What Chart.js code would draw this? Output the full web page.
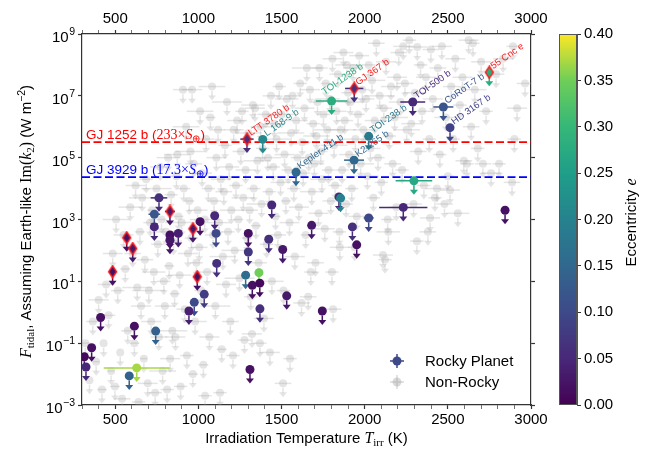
<!DOCTYPE html>
<html>
<head>
<meta charset="utf-8">
<script src="https://cdn.jsdelivr.net/npm/chart.js@4.4.1/dist/chart.umd.min.js"></script>
<style>
  html, body { margin: 0; padding: 0; background: #fff; }
  #wrap { width: 650px; height: 452px; }
</style>
</head>
<body>
<div id="wrap"><canvas id="tidalChart" width="650" height="452"></canvas></div>
<script>
// ---- data -------------------------------------------------------------
const solarConstant = 1361; // W m^-2, one Earth instellation
const refNames = ['GJ 1252 b', 'GJ 3929 b'];
const refInstellation = [233, 17.3]; // in units of S_earth
const refColors = ['#ff0000', '#0000ff'];

const tempMin = 300, tempMax = 3000;
const xTickValues = [500, 1000, 1500, 2000, 2500, 3000];
const yTickExponents = [-3, -1, 1, 3, 5, 7, 9];
const eccMax = 0.4;
const eccTicks = [0, 0.05, 0.10, 0.15, 0.20, 0.25, 0.30, 0.35, 0.40];

// rocky planets: upper limits on tidal flux (log10 W m^-2)
const rockyNames = ['LTT 3780 b', 'L 168-9 b', 'Kepler-411 b', 'TOI-1238 b', 'GJ 367 b', 'TOI-500 b',
  'CoRoT-7 b', 'HD 3167 b', 'TOI-238 b', 'K2-265 b', '55 Cnc e',
  '', '', '', '', '', '', '', '', '', '', '', '', '', '', '', '', '', '', '', '', '', '', '', '', '',
  '', '', '', '', '', '', '', '', '', '', '', '', '', '', '', '', '', '', '', '', '', '', '', ''];
const rockyT = [1292, 1387, 1587, 1801, 1937, 2289, 2473, 2513, 2024, 1936, 2749,
  2296, 2232, 2844, 2024, 1845, 1855, 1441, 1926, 1952, 1681, 1423, 1507,
  763, 735, 735, 829, 829, 829, 879, 967, 1010, 1098, 1106, 1110, 1300, 1300,
  569, 605, 484, 993, 412, 615, 743, 943, 975, 1035, 1284, 1364, 1324, 1369, 1370, 1531,
  1310, 358, 314, 324, 584, 629, 1745];
const rockyLogF = [5.60, 5.59, 4.53, 6.83, 7.24, 6.80, 6.64, 5.97, 5.69, 4.92, 7.76,
  4.25, 3.39, 3.30, 3.05, 3.73, 3.69, 3.47, 2.76, 2.18, 2.81, 2.36, 2.03,
  3.70, 3.17, 2.76, 3.26, 2.50, 2.33, 2.55, 2.70, 2.93, 3.12, 2.55, 1.58, 2.55, 1.95,
  2.41, 2.06, 1.31, 1.15, -0.17, -0.45, -0.61, 0.04, 0.32, 0.58, 1.20, 1.28, 0.87, 0.94, 0.11, 0.53,
  -1.85, -1.15, -1.44, -1.77, -2.06, -1.80, 0.04];
const rockyErrT = [40, 20, 15, 95, 55, 75, 60, 10, 25, 60, 10,
  110, 145, 0, 30, 10, 0, 0, 15, 0, 0, 0, 0,
  50, 35, 0, 30, 0, 0, 0, 0, 0, 0, 20, 0, 20, 20,
  0, 0, 0, 0, 0, 0, 0, 0, 0, 0, 0, 0, 0, 0, 0, 0,
  0, 0, 0, 0, 0, 198, 0];
const rockyEcc = [0.06, 0.21, 0.15, 0.28, 0.06, 0.05, 0.12, 0.09, 0.18, 0.15, 0.28,
  0.27, 0.05, 0.02, 0.10, 0.05, 0.20, 0.05, 0.06, 0.02, 0.03, 0.06, 0.03,
  0.06, 0.12, 0.05, 0.03, 0.02, 0.03, 0.04, 0.03, 0.02, 0.05, 0.10, 0.06, 0.02, 0.07,
  0.02, 0.03, 0.02, 0.02, 0.02, 0.02, 0.14, 0.04, 0.10, 0.08, 0.16, 0.35, 0.02, 0.01, 0.06, 0.03,
  0.02, 0.02, 0.01, 0.05, 0.14, 0.37, 0.02];
// drawn as red-rimmed diamonds
const rockyFlagged = [true, false, false, false, true, false, false, false, false, false, true,
  false, false, false, false, false, false, false, false, false, false, false, false,
  false, false, false, true, false, false, false, true, false, false, false, false, false, false,
  true, true, true, true, false, false, false, false, false, false, false, false, false, false, false, false,
  false, false, false, false, false, false, false];

// non-rocky planets: [T_irr (K), log10 F_tidal, sigma T_irr (K)]
const nonRocky = [
  [320,-1.0,30],[345,-2.2,0],[365,-0.3,40],[385,-1.6,20],[400,0.4,60],[420,-2.5,30],[430,-1.0,0],[445,0.9,50],
  [460,-0.1,40],[475,-1.9,20],[485,1.9,60],[498,-2.4,30],[505,3.0,80],[515,0.7,40],[530,-1.3,0],[541,-2.8,50],
  [550,2.5,60],[560,1.4,30],[575,-0.6,40],[590,3.4,70],
  [605,1.9,50],[615,-1.0,30],[622,4.1,60],[632,0.8,90],[640,-2.9,40],[648,2.6,30],[655,0.2,60],[662,3.7,80],
  [672,-1.5,20],[678,1.7,50],[686,4.3,40],[695,-2.3,60],[702,0.7,100],[709,2.9,40],[716,-0.3,60],[722,3.3,30],
  [732,1.3,70],[740,-2.6,40],[748,4.0,90],[756,2.2,40],[762,-0.8,50],[770,4.7,60],[778,3.0,30],[785,-1.9,80],
  [792,1.0,40],[798,0.2,60],
  [805,2.6,60],[812,-2.5,40],[818,5.0,70],[824,1.5,30],[830,-1.5,60],[836,3.8,40],[843,-0.6,90],[850,2.3,50],
  [857,0.6,30],[862,-0.8,60],[868,4.4,40],[873,5.1,80],[880,3.1,30],[887,1.2,70],[893,-2.4,40],[900,2.9,100],
  [907,7.2,60],[912,4.0,40],[918,0.1,50],[926,6.0,80],[931,-1.4,40],[937,1.9,60],[945,3.6,30],[952,5.2,90],
  [958,2.4,40],[962,7.2,60],[967,-2.0,30],[972,4.8,50],[980,-0.3,70],[988,1.6,40],[995,3.3,60],
  [1005,2.1,50],[1010,6.5,80],[1016,0.7,40],[1022,4.5,60],[1030,-1.7,30],[1038,3.0,90],[1040,-2.7,40],[1046,5.6,50],
  [1052,1.3,70],[1060,4.0,40],[1066,-0.8,60],[1072,6.3,30],[1082,7.3,80],[1088,2.5,50],[1094,3.6,40],[1102,0.2,90],
  [1108,5.0,60],[1118,5.9,40],[1124,2.9,70],[1130,-2.6,40],[1135,4.3,60],[1140,-1.2,30],[1147,1.8,80],[1153,3.9,50],
  [1160,5.4,40],[1166,0.9,60],[1172,6.8,90],[1178,2.6,40],[1185,4.7,60],[1192,-0.3,50],[1198,3.3,70],
  [1208,-1.4,40],[1212,5.9,60],[1218,2.0,80],[1226,4.1,40],[1233,6.2,60],[1240,3.0,30],[1247,1.1,90],[1255,5.2,50],
  [1262,6.5,40],[1270,3.7,70],[1277,-0.9,40],[1284,4.6,60],[1292,2.4,30],[1300,5.8,80],[1308,3.3,50],[1315,0.5,40],
  [1322,-0.7,60],[1328,6.7,70],[1333,4.0,40],[1340,6.6,60],[1346,2.8,30],[1355,4.9,80],[1362,1.6,50],[1370,-1.0,40],
  [1374,6.0,60],[1380,3.5,90],[1386,5.3,40],[1394,-0.2,60],
  [1405,6.4,50],[1410,2.2,40],[1418,5.0,80],[1426,3.9,40],[1430,-1.3,60],[1436,7.0,50],[1442,1.0,70],[1450,4.7,40],
  [1456,6.1,60],[1464,3.1,30],[1470,5.6,80],[1478,2.5,50],[1486,7.3,40],[1494,4.2,60],[1500,6.4,90],[1509,-2.3,50],
  [1512,0.7,40],[1518,5.1,60],[1526,3.6,30],[1532,6.9,70],[1540,4.6,40],[1548,2.9,60],[1551,-1.5,40],[1557,5.8,80],
  [1566,7.0,50],[1574,4.0,40],[1580,1.8,60],[1588,6.2,70],[1596,5.0,40],
  [1604,3.4,60],[1612,7.4,40],[1620,0.3,50],[1624,5.5,80],[1630,4.5,40],[1638,6.6,60],[1645,2.5,30],[1652,7.9,90],
  [1660,0.5,50],[1664,5.0,40],[1671,7.2,60],[1676,1.3,40],[1682,3.9,70],[1690,6.1,40],[1697,4.8,60],[1704,1.6,50],
  [1710,5.7,80],[1716,6.8,40],[1722,3.2,60],[1728,7.9,50],[1736,5.2,40],[1743,4.3,70],[1752,6.4,40],[1760,2.7,60],
  [1766,7.4,30],[1775,5.9,80],[1782,4.6,40],[1790,6.9,60],[1796,3.6,50],
  [1803,1.3,40],[1806,8.2,60],[1810,0.1,50],[1815,5.4,80],[1822,4.1,40],[1830,6.5,60],[1838,7.7,50],[1848,2.6,40],
  [1850,2.1,60],[1856,5.9,90],[1864,4.6,40],[1872,8.4,60],[1880,6.2,50],[1888,3.5,40],[1893,8.0,70],[1900,7.1,40],
  [1906,5.1,60],[1914,6.8,80],[1922,4.0,40],[1930,7.9,60],[1940,2.1,40],[1944,5.6,70],[1952,3.1,50],[1960,6.4,40],
  [1967,8.3,60],[1976,4.8,80],[1985,7.2,40],[1992,5.9,60],
  [2008,6.9,50],[2016,4.4,70],[2024,8.0,40],[2034,5.3,60],[2044,7.5,80],[2052,3.7,40],[2060,6.2,60],[2070,8.7,50],
  [2080,5.0,40],[2090,7.0,90],[2100,4.2,40],[2110,1.85,60],[2115,6.6,50],[2122,1.7,40],[2128,8.1,60],[2138,3.0,40],
  [2142,2.6,70],[2148,5.7,40],[2158,7.3,60],[2168,4.8,50],[2180,6.3,80],[2190,3.4,40],[2194,7.6,60],
  [2205,8.4,50],[2215,6.8,70],[2225,4.6,40],[2232,8.6,60],[2242,7.4,50],[2252,5.9,80],[2268,8.8,40],[2280,6.1,60],
  [2294,3.5,50],[2302,7.1,70],[2314,2.3,40],[2316,8.58,60],[2322,5.2,50],[2336,8.0,40],[2345,6.5,70],[2356,4.1,40],
  [2368,7.6,60],[2380,2.6,50],[2388,5.6,40],[2393,3.05,60],[2398,8.5,50],
  [2410,6.9,60],[2422,3.7,40],[2434,4.0,70],[2440,7.9,50],[2452,5.1,40],[2464,8.6,60],[2480,3.5,50],[2488,6.3,70],
  [2500,4.4,40],[2513,3.95,60],[2520,7.3,50],[2532,5.6,40],[2545,8.2,60],[2560,3.2,70],[2572,6.7,40],[2588,7.6,60],
  [2596,4.9,50],
  [2615,4.8,40],[2625,8.8,60],[2640,6.0,50],[2651,8.7,40],[2662,7.2,70],[2680,5.3,40],[2700,8.1,60],[2711,4.8,50],
  [2730,6.5,40],[2760,4.5,60],[2790,7.7,50],[2808,4.8,40],[2832,8.2,60],[2886,4.2,50],[2892,8.6,40],[2900,5.6,40],
  [2916,6.6,60],[2964,7.4,50]
];

// ---- styling helpers ---------------------------------------------------
const SANS = '"Liberation Sans", Arial, Helvetica, sans-serif';
const SERIF = '"Liberation Serif", "Times New Roman", serif';
const GRAY = 'rgba(160,160,160,0.28)';
const ARROW_LEN = 14;

const viridisStops = ['#440154', '#482878', '#3e4989', '#31688e', '#26828e', '#1f9e89', '#35b779', '#6ece58', '#fde725'];

function hexRgb(h) {
  return [1, 3, 5].map(k => parseInt(h.slice(k, k + 2), 16));
}

function viridis(t) {
  t = Math.min(1, Math.max(0, t));
  const n = viridisStops.length - 1;
  const i = Math.min(n - 1, Math.floor(t * n));
  const f = t * n - i;
  const a = hexRgb(viridisStops[i]), b = hexRgb(viridisStops[i + 1]);
  const c = a.map((v, k) => Math.round(v + (b[k] - v) * f));
  return `rgb(${c[0]},${c[1]},${c[2]})`;
}

const eccColor = e => viridis(e / eccMax);

// thin diamond marker with a red rim, filled with the eccentricity colour
function diamondMarker(fill) {
  const c = document.createElement('canvas');
  c.width = 11; c.height = 14;
  const g = c.getContext('2d');
  g.beginPath();
  g.moveTo(5.5, 1); g.lineTo(9.5, 7); g.lineTo(5.5, 13); g.lineTo(1.5, 7);
  g.closePath();
  g.fillStyle = fill;
  g.fill();
  g.strokeStyle = '#ff1a1a';
  g.lineWidth = 1.4;
  g.stroke();
  return c;
}

// draw a run of differently-styled text pieces on one baseline
function drawRuns(ctx, runs, x, y, align) {
  let total = 0;
  runs.forEach(r => { ctx.font = r.font; r.w = ctx.measureText(r.text).width; total += r.w; });
  let cx = align === 'center' ? x - total / 2 : x;
  ctx.textAlign = 'left';
  runs.forEach(r => {
    ctx.font = r.font;
    ctx.fillText(r.text, cx, y + (r.dy || 0));
    cx += r.w;
  });
}

// ---- datasets ------------------------------------------------------------
const rockyPoints = rockyT.map((t, i) => ({
  x: t, y: Math.pow(10, rockyLogF[i]), dT: rockyErrT[i], ecc: rockyEcc[i], name: rockyNames[i]
}));
const plainRocky = rockyPoints.filter((p, i) => !rockyFlagged[i]);
const flaggedRocky = rockyPoints.filter((p, i) => rockyFlagged[i]);
const grayPoints = nonRocky.map(([t, lf, dt]) => ({ x: t, y: Math.pow(10, lf), dT: dt }));

const refLines = refNames.map((name, i) => ({
  type: 'line',
  label: name,
  data: [{ x: tempMin, y: refInstellation[i] * solarConstant }, { x: tempMax, y: refInstellation[i] * solarConstant }],
  borderColor: refColors[i],
  borderWidth: 1.6,
  borderDash: [8, 3.5],
  pointRadius: 0,
  showLine: true,
  order: 3
}));

const datasets = [
  {
    label: 'Non-Rocky',
    data: grayPoints,
    pointRadius: 4,
    pointBackgroundColor: GRAY,
    pointBorderWidth: 0,
    barColors: grayPoints.map(() => GRAY),
    order: 4
  },
  ...refLines,
  {
    label: 'Rocky Planet',
    data: plainRocky,
    pointRadius: 4.5,
    pointBackgroundColor: plainRocky.map(p => eccColor(p.ecc)),
    pointBorderWidth: 0,
    barColors: plainRocky.map(p => eccColor(p.ecc)),
    order: 2
  },
  {
    label: 'Rocky Planet (flagged)',
    data: flaggedRocky,
    pointStyle: flaggedRocky.map(p => diamondMarker(eccColor(p.ecc))),
    pointRadius: 5,
    barColors: flaggedRocky.map(p => eccColor(p.ecc)),
    flagged: true,
    order: 1
  }
];

// ---- plugins ---------------------------------------------------------------
// horizontal T_irr error bars and downward upper-limit arrows
const errorBarPlugin = {
  id: 'errorBars',
  beforeDatasetDraw(chart, args) {
    const ds = chart.data.datasets[args.index];
    if (!ds.barColors) return;
    const ctx = chart.ctx, xs = chart.scales.x, area = chart.chartArea;
    ctx.save();
    ctx.beginPath();
    ctx.rect(area.left, area.top, area.width, area.height);
    ctx.clip();
    ctx.lineWidth = 1.5;
    args.meta.data.forEach((el, i) => {
      const p = ds.data[i];
      const col = ds.barColors[i];
      ctx.strokeStyle = col;
      ctx.fillStyle = col;
      if (p.dT > 0) {
        ctx.beginPath();
        ctx.moveTo(xs.getPixelForValue(p.x - p.dT), el.y);
        ctx.lineTo(xs.getPixelForValue(p.x + p.dT), el.y);
        ctx.stroke();
      }
      const tip = el.y + ARROW_LEN;
      ctx.beginPath();
      ctx.moveTo(el.x, el.y + 4.5);
      ctx.lineTo(el.x, tip - 4);
      ctx.stroke();
      ctx.beginPath();
      ctx.moveTo(el.x - 4, tip - 5);
      ctx.lineTo(el.x + 4, tip - 5);
      ctx.lineTo(el.x, tip);
      ctx.closePath();
      ctx.fill();
    });
    ctx.restore();
  },
  afterDatasetsDraw(chart) {
    // planet names, rotated next to their markers
    const ctx = chart.ctx;
    ctx.save();
    ctx.font = '9.5px ' + SANS;
    ctx.textAlign = 'left';
    ctx.textBaseline = 'alphabetic';
    chart.data.datasets.forEach((ds, di) => {
      if (!ds.barColors || ds.label === 'Non-Rocky') return;
      const meta = chart.getDatasetMeta(di);
      meta.data.forEach((el, i) => {
        const p = ds.data[i];
        if (!p.name) return;
        const off = p.name === 'TOI-1238 b' ? [-7, -6] : [4, -3];
        ctx.save();
        ctx.translate(el.x + off[0], el.y + off[1]);
        ctx.rotate(-35 * Math.PI / 180);
        ctx.fillStyle = ds.flagged ? '#ff2020' : eccColor(p.ecc);
        ctx.fillText(p.name, 0, 0);
        ctx.restore();
      });
    });
    ctx.restore();
  },
  afterDraw(chart) {
    const ctx = chart.ctx;
    const ys = chart.scales.y, ecc = chart.scales.ecc, area = chart.chartArea;
    ctx.save();
    ctx.fillStyle = '#000';
    ctx.textBaseline = 'alphabetic';

    // log tick labels 10^n
    yTickExponents.forEach(n => {
      const py = ys.getPixelForValue(Math.pow(10, n));
      const expText = n < 0 ? '\u2212' + Math.abs(n) : String(n);
      ctx.font = '10.5px ' + SANS;
      const ew = ctx.measureText(expText).width;
      ctx.textAlign = 'left';
      ctx.fillText(expText, 75 - ew, py + 1);
      ctx.font = '15px ' + SANS;
      ctx.textAlign = 'right';
      ctx.fillText('10', 75 - ew - 0.5, py + 8);
    });

    // y-axis title
    ctx.save();
    ctx.translate(31, (area.top + area.bottom) / 2 + 2);
    ctx.rotate(-Math.PI / 2);
    drawRuns(ctx, [
      { text: 'F', font: 'italic 16px ' + SERIF },
      { text: 'tidal', font: '11px ' + SERIF, dy: 3 },
      { text: ', Assuming Earth-like ', font: '15px ' + SANS },
      { text: 'Im(', font: '16px ' + SERIF },
      { text: 'k', font: 'italic 16px ' + SERIF },
      { text: '2', font: '11px ' + SERIF, dy: 3 },
      { text: ')', font: '16px ' + SERIF },
      { text: ' (W m', font: '15px ' + SANS },
      { text: '\u22122', font: '10.5px ' + SANS, dy: -6 },
      { text: ')', font: '15px ' + SANS }
    ], 0, 0, 'center');
    ctx.restore();

    // x-axis title
    drawRuns(ctx, [
      { text: 'Irradiation Temperature ', font: '15px ' + SANS },
      { text: 'T', font: 'italic 16px ' + SERIF },
      { text: 'irr', font: '11px ' + SERIF, dy: 3 },
      { text: ' (K)', font: '15px ' + SANS }
    ], (area.left + area.right) / 2, 443, 'center');

    // reference-planet line labels
    refNames.forEach((name, i) => {
      const py = ys.getPixelForValue(refInstellation[i] * solarConstant);
      ctx.fillStyle = refColors[i];
      drawRuns(ctx, [
        { text: name + ' (', font: '13.5px ' + SANS },
        { text: String(refInstellation[i]) + '\u00d7', font: '14px ' + SERIF },
        { text: 'S', font: 'italic 14px ' + SERIF },
        { text: '\u2295', font: '10px ' + SERIF, dy: 3 },
        { text: ')', font: '13.5px ' + SANS }
      ], area.left + 4, py - 3, 'left');
    });

    // colour bar
    const cbRight = ecc.left, cbLeft = cbRight - 18;
    const cbTop = ecc.getPixelForValue(eccMax), cbBottom = ecc.getPixelForValue(0);
    const grad = ctx.createLinearGradient(0, cbBottom, 0, cbTop);
    viridisStops.forEach((c, i) => grad.addColorStop(i / (viridisStops.length - 1), c));
    ctx.fillStyle = grad;
    ctx.fillRect(cbLeft, cbTop, cbRight - cbLeft, cbBottom - cbTop);
    ctx.strokeStyle = '#555';
    ctx.lineWidth = 1;
    ctx.strokeRect(cbLeft + 0.5, cbTop + 0.5, cbRight - cbLeft - 1, cbBottom - cbTop - 1);

    // colour bar title
    ctx.save();
    ctx.fillStyle = '#000';
    ctx.translate(636, (cbTop + cbBottom) / 2 + 3);
    ctx.rotate(-Math.PI / 2);
    drawRuns(ctx, [
      { text: 'Eccentricity ', font: '15px ' + SANS },
      { text: 'e', font: 'italic 16px ' + SERIF }
    ], 0, 0, 'center');
    ctx.restore();

    // legend
    const lx = 397;
    const items = [
      { y: 361, color: eccColor(0.1), text: 'Rocky Planet' },
      { y: 382, color: 'rgba(160,160,160,0.4)', text: 'Non-Rocky' }
    ];
    items.forEach(it => {
      ctx.strokeStyle = it.color;
      ctx.fillStyle = it.color;
      ctx.lineWidth = 1.5;
      ctx.beginPath();
      ctx.moveTo(lx - 7, it.y); ctx.lineTo(lx + 7, it.y);
      ctx.moveTo(lx, it.y - 7); ctx.lineTo(lx, it.y + 7);
      ctx.stroke();
      ctx.beginPath();
      ctx.arc(lx, it.y, 4.5, 0, Math.PI * 2);
      ctx.fill();
      ctx.fillStyle = '#000';
      ctx.font = '15px ' + SANS;
      ctx.textAlign = 'left';
      ctx.fillText(it.text, 425, it.y + 5);
    });
    ctx.restore();
  }
};

// ---- axes ------------------------------------------------------------------
const xTickList = [];
for (let t = tempMin; t <= tempMax; t += 100) xTickList.push(t);

const frame = { color: '#333', width: 1.2 };

function tempAxis(position, height) {
  return {
    type: 'linear',
    position: position,
    min: tempMin,
    max: tempMax,
    afterBuildTicks: s => { s.ticks = xTickList.map(v => ({ value: v })); },
    afterFit: s => { s.height = height; },
    ticks: {
      autoSkip: false,
      maxRotation: 0,
      color: '#000',
      font: { family: SANS, size: 15 },
      padding: 2,
      callback: v => (xTickValues.includes(v) ? String(v) : '')
    },
    grid: {
      drawOnChartArea: false,
      tickLength: 4,
      tickColor: '#333',
      tickWidth: c => (xTickValues.includes(c.tick && c.tick.value) ? 1.2 : 0.7)
    },
    border: frame
  };
}

function fluxAxis(position, width) {
  return {
    type: 'logarithmic',
    position: position,
    min: 1e-3,
    max: 1e9,
    afterBuildTicks: s => { s.ticks = yTickExponents.map(n => ({ value: Math.pow(10, n) })); },
    afterFit: s => { s.width = width; },
    ticks: { display: false },
    grid: { drawOnChartArea: false, tickLength: 4, tickColor: '#333', tickWidth: 1.2 },
    border: frame
  };
}

new Chart(document.getElementById('tidalChart').getContext('2d'), {
  type: 'scatter',
  data: { datasets: datasets },
  options: {
    responsive: false,
    animation: false,
    devicePixelRatio: 1,
    layout: { padding: 0 },
    plugins: {
      legend: { display: false },
      tooltip: { enabled: false }
    },
    scales: {
      x: tempAxis('bottom', 47),
      xTop: tempAxis('top', 34),
      y: fluxAxis('left', 82),
      yRight: Object.assign(fluxAxis('right', 46), { weight: 0 }),
      ecc: {
        type: 'linear',
        position: 'right',
        weight: 1,
        min: 0,
        max: eccMax,
        afterBuildTicks: s => { s.ticks = eccTicks.map(v => ({ value: v })); },
        afterFit: s => { s.width = 73; },
        ticks: {
          color: '#000',
          font: { family: SANS, size: 15 },
          padding: 3,
          autoSkip: false,
          callback: v => Number(v).toFixed(2)
        },
        grid: { drawOnChartArea: false, tickLength: 4, tickColor: '#333' },
        border: { color: '#555', width: 1 }
      }
    }
  },
  plugins: [errorBarPlugin]
});
</script>
</body>
</html>
